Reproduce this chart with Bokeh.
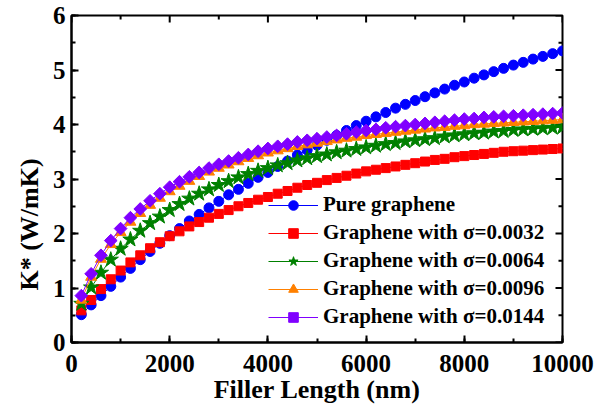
import math
from bokeh.plotting import figure
from bokeh.models import (Range1d, SingleIntervalTicker, LinearAxis, Legend, LegendItem)
from bokeh.embed import file_html
from bokeh.resources import INLINE

# ---- data ----
filler_length = list(range(200, 10001, 200))

pure_graphene = [0.51, 0.69, 0.86, 1.03, 1.20, 1.36, 1.52, 1.67, 1.82, 1.96,
                 2.09, 2.23, 2.35, 2.47, 2.59, 2.71, 2.81, 2.92, 3.03, 3.12,
                 3.23, 3.33, 3.44, 3.53, 3.62, 3.71, 3.80, 3.89, 3.98, 4.06,
                 4.14, 4.22, 4.30, 4.37, 4.44, 4.51, 4.58, 4.65, 4.72, 4.78,
                 4.85, 4.91, 4.97, 5.03, 5.09, 5.14, 5.20, 5.25, 5.30, 5.35]

sigma_0032 = [0.59, 0.78, 0.98, 1.16, 1.32, 1.47, 1.60, 1.73, 1.84, 1.95,
              2.04, 2.13, 2.21, 2.29, 2.36, 2.43, 2.50, 2.56, 2.62, 2.67,
              2.73, 2.78, 2.84, 2.89, 2.93, 2.98, 3.02, 3.06, 3.10, 3.14,
              3.17, 3.20, 3.23, 3.26, 3.29, 3.32, 3.35, 3.37, 3.40, 3.42,
              3.44, 3.46, 3.48, 3.50, 3.51, 3.52, 3.53, 3.54, 3.55, 3.56]

sigma_0064 = [0.71, 1.01, 1.28, 1.52, 1.72, 1.89, 2.05, 2.19, 2.31, 2.43,
              2.54, 2.64, 2.73, 2.81, 2.89, 2.96, 3.03, 3.09, 3.15, 3.20,
              3.25, 3.29, 3.34, 3.38, 3.42, 3.45, 3.49, 3.52, 3.55, 3.58,
              3.61, 3.64, 3.66, 3.69, 3.71, 3.73, 3.75, 3.78, 3.80, 3.82,
              3.84, 3.85, 3.87, 3.88, 3.90, 3.91, 3.92, 3.93, 3.94, 3.95]

sigma_0096 = [0.78, 1.20, 1.53, 1.80, 2.02, 2.21, 2.37, 2.52, 2.65, 2.77,
              2.87, 2.96, 3.05, 3.13, 3.20, 3.26, 3.32, 3.38, 3.43, 3.48,
              3.52, 3.56, 3.60, 3.63, 3.66, 3.69, 3.72, 3.75, 3.77, 3.80,
              3.82, 3.84, 3.86, 3.88, 3.90, 3.92, 3.94, 3.95, 3.97, 3.98,
              4.00, 4.01, 4.02, 4.03, 4.04, 4.05, 4.06, 4.07, 4.08, 4.09]

sigma_0144 = [0.86, 1.26, 1.60, 1.87, 2.09, 2.29, 2.45, 2.60, 2.73, 2.85,
              2.95, 3.04, 3.12, 3.20, 3.27, 3.33, 3.39, 3.45, 3.51, 3.56,
              3.60, 3.64, 3.68, 3.71, 3.74, 3.77, 3.80, 3.83, 3.86, 3.89,
              3.91, 3.94, 3.96, 3.98, 4.00, 4.02, 4.04, 4.06, 4.08, 4.10,
              4.11, 4.13, 4.14, 4.15, 4.16, 4.17, 4.18, 4.19, 4.20, 4.21]

series_labels = ["Pure graphene", "Graphene with \u03c3=0.0032",
                 "Graphene with \u03c3=0.0064", "Graphene with \u03c3=0.0096",
                 "Graphene with \u03c3=0.0144"]
series_values = [pure_graphene, sigma_0032, sigma_0064, sigma_0096, sigma_0144]

x_title = "Filler Length (nm)"
y_title = "K* (W/mK)"
x_min, x_max, x_tick_interval = 0, 10000, 2000
y_min, y_max, y_tick_interval = 0, 6, 1

# ---- styling / layout ----
FONT = "Liberation Serif"
colors = ["#0000FF", "#FF0000", "#008000", "#FF8000", "#8000FF"]
markers = ["circle", "square", "star", "triangle", "square"]
sizes = [10, 9, 16, 11, 9]
angles = [0, 0, 0, 0, math.pi / 4]

W, H = 599, 410
B_LEFT, B_RIGHT, B_TOP, B_BOTTOM = 71, 37, 15, 68
MAJOR_LEN, MINOR_LEN = 7, 4

p = figure(width=W, height=H, output_backend="svg", toolbar_location=None,
           x_range=Range1d(x_min, x_max), y_range=Range1d(y_min, y_max),
           x_axis_type=None, y_axis_type=None,
           min_border_left=B_LEFT, min_border_right=B_RIGHT,
           min_border_top=B_TOP, min_border_bottom=B_BOTTOM)
p.background_fill_color = "white"
p.border_fill_color = "white"
p.outline_line_color = "black"
p.outline_line_width = 2
p.xgrid.visible = False
p.ygrid.visible = False


def style_axis(ax):
    ax.axis_line_color = "black"
    ax.axis_line_width = 2
    ax.major_tick_in = MAJOR_LEN
    ax.major_tick_out = 0
    ax.minor_tick_in = MINOR_LEN
    ax.minor_tick_out = 0
    ax.major_tick_line_width = 2
    ax.minor_tick_line_width = 2
    ax.major_tick_line_color = "black"
    ax.minor_tick_line_color = "black"
    ax.major_label_text_font = FONT
    ax.major_label_text_font_style = "bold"
    ax.major_label_text_color = "black"
    ax.major_label_text_font_size = "25px"
    ax.axis_label_text_font = FONT
    ax.axis_label_text_font_style = "bold"
    ax.axis_label_text_font_size = "26px"
    ax.axis_label_text_color = "black"


xb = LinearAxis(ticker=SingleIntervalTicker(interval=x_tick_interval, num_minor_ticks=2))
style_axis(xb)
xb.major_label_standoff = 12
xb.axis_label = x_title
xb.axis_label_standoff = 0
p.add_layout(xb, "below")

yl = LinearAxis(ticker=SingleIntervalTicker(interval=y_tick_interval, num_minor_ticks=2))
style_axis(yl)
yl.major_label_standoff = 6
yl.axis_label = y_title + "\u00a0" * 14
yl.axis_label_standoff = 6
p.add_layout(yl, "left")

# mirrored inward ticks on the top and right edges (tick length converted to data units)
frame_w = W - B_LEFT - B_RIGHT
frame_h = H - B_TOP - B_BOTTOM
dx = (x_max - x_min) / frame_w
dy = (y_max - y_min) / frame_h
x_major = list(range(x_min, x_max + 1, x_tick_interval))
x_minor = [v + x_tick_interval / 2 for v in x_major[:-1]]
y_major = list(range(y_min, y_max + 1, y_tick_interval))
y_minor = [v + y_tick_interval / 2 for v in y_major[:-1]]
for xs, ln in ((x_major, MAJOR_LEN), (x_minor, MINOR_LEN)):
    p.segment(x0=xs, y0=[y_max] * len(xs), x1=xs, y1=[y_max - ln * dy] * len(xs),
              line_color="black", line_width=2)
for ys, ln in ((y_major, MAJOR_LEN), (y_minor, MINOR_LEN)):
    p.segment(x0=[x_max] * len(ys), y0=ys, x1=[x_max - ln * dx] * len(ys), y1=ys,
              line_color="black", line_width=2)

items = []
for lab, vals, c, m, s, a in zip(series_labels, series_values, colors, markers, sizes, angles):
    r1 = p.line(filler_length, vals, line_color=c, line_width=1)
    r2 = p.scatter(filler_length, vals, marker=m, size=s, angle=a,
                   fill_color=c, line_color=c)
    items.append(LegendItem(label=lab, renderers=[r1, r2]))

legend = Legend(items=items, location=(197, 13))
legend.label_text_font = FONT
legend.label_text_font_style = "bold"
legend.label_text_font_size = "21px"
legend.label_text_color = "black"
legend.glyph_width = 50
legend.glyph_height = 24
legend.label_height = 24
legend.spacing = 3
legend.padding = 0
legend.margin = 0
legend.label_standoff = 5
legend.border_line_color = None
legend.background_fill_alpha = 0
p.add_layout(legend)

open("out.html", "w").write(file_html(p, INLINE))
